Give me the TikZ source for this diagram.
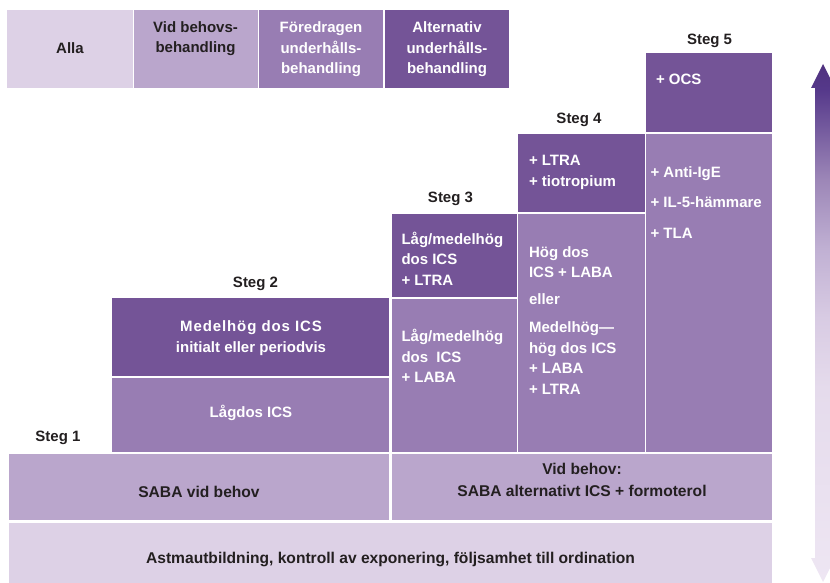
\documentclass[tikz,border=0pt]{standalone}
\usepackage{fontspec}
\setmainfont{Liberation Sans}
\definecolor{cLight}{HTML}{DDD1E6}
\definecolor{cSoft}{HTML}{BAA6CC}
\definecolor{cMid}{HTML}{987DB3}
\definecolor{cDark}{HTML}{745497}
\definecolor{cText}{HTML}{231F20}
\definecolor{aA}{HTML}{EEE6F3}
\definecolor{aB}{HTML}{E5DBEC}
\definecolor{aC}{HTML}{D8CBE3}
\definecolor{aD}{HTML}{C0B0D3}
\definecolor{aE}{HTML}{9C86B7}
\definecolor{aF}{HTML}{55388A}
\definecolor{aG}{HTML}{50327F}
\pgfdeclareverticalshading{arrowshade}{100bp}{color(0bp)=(aA); color(25bp)=(aA); color(43.8bp)=(aB); color(50.5bp)=(aC); color(57.2bp)=(aD); color(63.9bp)=(aE); color(72.6bp)=(aF); color(75bp)=(aG); color(100bp)=(aG)}
\newcommand{\fl}{\rule{0pt}{14pt}}
\begin{document}
\begin{tikzpicture}[x=1pt,y=-1pt,
  txt/.style={inner sep=0pt, outer sep=0pt, font=\bfseries\fontsize{15}{20.5}\selectfont},
  wl/.style={txt, text=white, align=left, anchor=north west},
  wc/.style={txt, text=white, align=center, anchor=north},
  dc/.style={txt, text=cText, align=center, anchor=north},
  big/.style={font=\bfseries\fontsize{15.6}{21.5}\selectfont}]
\useasboundingbox (0,0) rectangle (830,583);
% legend
\fill[cLight] (7,10) rectangle (132.5,88);
\fill[cSoft] (134,10) rectangle (257.5,88);
\fill[cMid] (259,10) rectangle (383,88);
\fill[cDark] (384.8,10) rectangle (509,88);
\node[dc] (lg1) at (70,39.3) {\fl Alla};
\node[dc] (lg2) at (195.5,18.5) {\fl Vid behovs-\\behandling};
\node[wc] (lg3) at (321,19) {\fl Föredragen\\underhålls-\\behandling};
\node[wc] (lg4) at (447,19) {\fl Alternativ\\underhålls-\\behandling};
% steps
\fill[cDark] (646.3,53) rectangle (772,132);
\fill[cMid] (646.3,133.8) rectangle (772,452);
\fill[cDark] (518.3,134) rectangle (644.5,212);
\fill[cMid] (518.3,214) rectangle (644.5,452);
\fill[cDark] (392,213.5) rectangle (516.7,297);
\fill[cMid] (392,299) rectangle (516.7,452);
\fill[cDark] (112,298) rectangle (389.3,376);
\fill[cMid] (112,378) rectangle (389.3,452);
\fill[cSoft] (9,454) rectangle (389.3,520);
\fill[cSoft] (392,454) rectangle (772,520);
\fill[cLight] (9,522.5) rectangle (772,582.5);
% step labels
\node[dc] (s1) at (58,427) {\fl Steg 1};
\node[dc] (s2) at (255.5,273.5) {\fl Steg 2};
\node[dc] (s3) at (450.5,188.3) {\fl Steg 3};
\node[dc] (s4) at (579,109.3) {\fl Steg 4};
\node[dc] (s5) at (709.5,30.3) {\fl Steg 5};
% box texts
\node[wl] (t5a) at (656,71) {\fl + OCS};
\node[wl] (t5b) at (650.5,163.3) {\fl + Anti-IgE\\[10pt]+ IL-5-hämmare\\[10pt]+ TLA};
\node[wl] (t4a) at (529,151.7) {\fl + LTRA\\+ tiotropium};
\node[wl] (t4b) at (529,243.3) {\fl Hög dos\\ICS + LABA\\[6pt]eller\\[8pt]Medelhög—\\hög dos ICS\\+ LABA\\+ LTRA};
\node[wl] (t3a) at (401.5,230.3) {\fl Låg/medelhög\\dos ICS\\+ LTRA};
\node[wl] (t3b) at (401.5,327.7) {\fl Låg/medelhög\\dos~ ICS\\+ LABA};
\node[wc] (t2a) at (251,317.7) {\fl {\addfontfeature{LetterSpace=6}Medelhög dos ICS}\\initialt eller periodvis};
\node[wc] (t2b) at (251,403.7) {\fl Lågdos ICS};
\node[dc, big] (t1) at (199,483) {\fl SABA vid behov};
\node[dc, big] (t1b) at (582,460.5) {\fl Vid behov:\\SABA alternativt ICS + formoterol};
\node[dc, big] (t0) at (390.5,549.5) {\fl Astmautbildning, kontroll av exponering, följsamhet till ordination};
% arrow
\shade[shading=arrowshade] (811,88) -- (823,64) -- (835,88) -- (831,88) -- (831,558) -- (835,558) -- (823,582) -- (811,558) -- (815,558) -- (815,88) -- cycle;
\end{tikzpicture}
\end{document}
